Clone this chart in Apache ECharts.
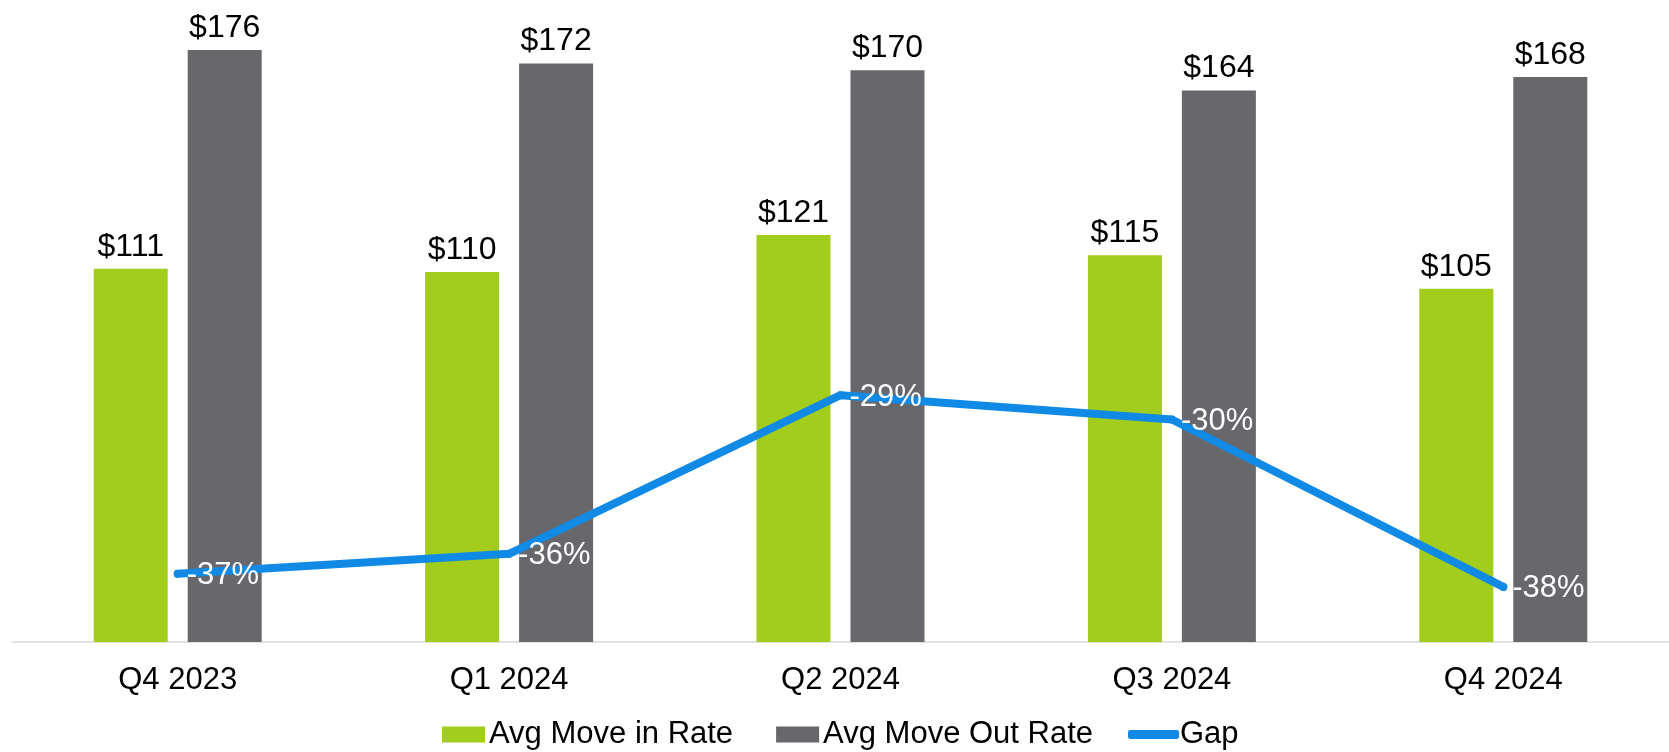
<!DOCTYPE html>
<html>
<head>
<meta charset="utf-8">
<script src="https://cdn.jsdelivr.net/npm/echarts@6/dist/echarts.min.js"></script>
<style>
  html, body { margin: 0; padding: 0; background: #fff; }
  #chart { width: 1669px; height: 752px; }
</style>
</head>
<body>
<div id="chart"></div>
<script>
// data
const quarters = ['Q4 2023', 'Q1 2024', 'Q2 2024', 'Q3 2024', 'Q4 2024'];
const moveIn = [111, 110, 121, 115, 105];
const moveOut = [176, 172, 170, 164, 168];
const gap = [-36.9, -36.0, -28.8, -29.9, -37.5]; // percent

const FONT = "'Liberation Sans', Arial, sans-serif";
const GREEN = '#a2cd1c';
const GRAY = '#68686c';
const BLUE = '#118ae6';

const chart = echarts.init(document.getElementById('chart'));

const option = {
  animation: false,
  textStyle: { fontFamily: FONT },
  grid: { left: 12, right: -5, top: 3, bottom: 110, containLabel: false },
  legend: [
    {
      data: ['Avg Move in Rate', 'Avg Move Out Rate'],
      left: 442,
      top: 719,
      padding: 0,
      itemWidth: 43,
      itemHeight: 16,
      itemGap: 43,
      icon: 'rect',
      textStyle: { fontSize: 31, color: '#000', fontFamily: FONT, padding: [0, 0, 0, -1] }
    },
    {
      data: [{ name: 'Gap', icon: 'roundRect' }],
      left: 1128,
      top: 719,
      padding: 0,
      itemWidth: 51,
      itemHeight: 9,
      itemStyle: { color: BLUE },
      textStyle: { fontSize: 31, color: '#000', fontFamily: FONT, padding: [0, 0, 0, -4] }
    }
  ],
  xAxis: {
    type: 'category',
    data: quarters,
    axisLine: { lineStyle: { color: '#d9d9d9', width: 1.5 } },
    axisTick: { show: false },
    axisLabel: { fontSize: 31, color: '#000', margin: 23, fontFamily: FONT }
  },
  yAxis: [
    { type: 'value', min: 0, max: 190, show: false },
    { type: 'value', min: -40, max: -11, show: false }
  ],
  series: [
    {
      name: 'Avg Move in Rate',
      type: 'bar',
      data: moveIn,
      barWidth: 74,
      barGap: '27%',
      itemStyle: { color: GREEN },
      label: {
        show: true, position: 'top', distance: 6,
        fontSize: 32, color: '#000', fontFamily: FONT,
        formatter: p => '$' + p.value
      }
    },
    {
      name: 'Avg Move Out Rate',
      type: 'bar',
      data: moveOut,
      barWidth: 74,
      itemStyle: { color: GRAY },
      label: {
        show: true, position: 'top', distance: 6,
        fontSize: 32, color: '#000', fontFamily: FONT,
        formatter: p => '$' + p.value
      }
    },
    {
      name: 'Gap',
      type: 'line',
      yAxisIndex: 1,
      data: gap,
      symbol: 'circle',
      symbolSize: 8,
      showSymbol: true,
      itemStyle: { color: BLUE },
      lineStyle: { color: BLUE, width: 8, cap: 'round', join: 'round' },
      label: {
        show: true, position: 'right', distance: 5, offset: [0, 2],
        fontSize: 31, color: '#fff', fontFamily: FONT,
        // round half away from zero, like the source chart
        formatter: p => (p.value < 0 ? '-' : '') + Math.round(Math.abs(p.value)) + '%'
      },
      z: 5
    }
  ]
};

chart.setOption(option);
</script>
</body>
</html>
